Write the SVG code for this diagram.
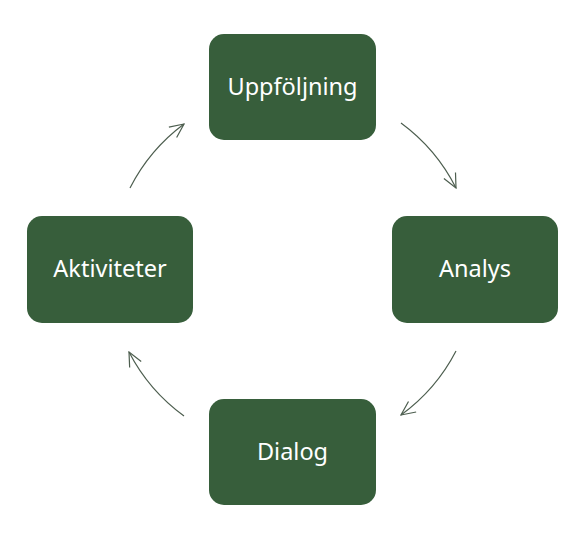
<svg xmlns="http://www.w3.org/2000/svg" width="581" height="536" viewBox="0 0 581 536">
<defs>
<style>
.box{fill:#375e3b;}
.lbl{fill:#ffffff;font-family:"Noto Sans","Open Sans",sans-serif;font-size:23.5px;text-anchor:middle;dominant-baseline:central;}
.arc{fill:none;stroke:#4d5e4f;stroke-width:1.2;marker-end:url(#ah);}
</style>
<marker id="ah" viewBox="0 0 16 16" refX="15" refY="8" markerWidth="16" markerHeight="16" markerUnits="userSpaceOnUse" orient="auto">
<path d="M1,1.5 L15,8 L1,14.5" fill="none" stroke="#4d5e4f" stroke-width="1.2"/>
</marker>
</defs>
<rect width="581" height="536" fill="#ffffff"/>
<g id="connectors">
<path class="arc" d="M401,123 A183,183 0 0,1 456,188"/>
<path class="arc" d="M456,351 A183,183 0 0,1 401,415"/>
<path class="arc" d="M184,416 A183,183 0 0,1 129,352"/>
<path class="arc" d="M130,188 A183,183 0 0,1 184,124"/>
</g>
<g id="uppfoljning">
<rect class="box" x="209" y="34" width="167" height="106" rx="15"/>
<text class="lbl" x="292.5" y="85.5">Uppföljning</text>
</g>
<g id="analys">
<rect class="box" x="392" y="216" width="166" height="107" rx="15"/>
<text class="lbl" x="475" y="268">Analys</text>
</g>
<g id="dialog">
<rect class="box" x="209" y="399" width="167" height="106" rx="15"/>
<text class="lbl" x="292.5" y="450.5">Dialog</text>
</g>
<g id="aktiviteter">
<rect class="box" x="27" y="216" width="166" height="107" rx="15"/>
<text class="lbl" x="110" y="268">Aktiviteter</text>
</g>
</svg>
